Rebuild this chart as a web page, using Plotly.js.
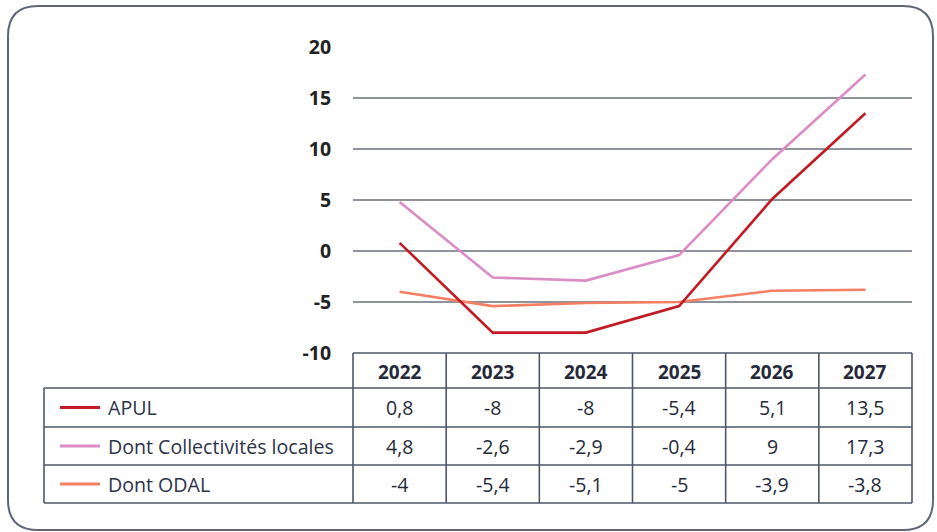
<!DOCTYPE html>
<html><head><meta charset="utf-8">
<script src="https://cdn.plot.ly/plotly-3.0.1.min.js"></script>
<style>html,body{margin:0;padding:0;background:#fff}#chart{width:937px;height:532px}</style>
</head><body><div id="chart"></div>
<script>
const years = ['2022','2023','2024','2025','2026','2027'];
const apul = [0.8, -8, -8, -5.4, 5.1, 13.5];
const collectivites = [4.8, -2.6, -2.9, -0.4, 9, 17.3];
const odal = [-4, -5.4, -5.1, -5, -3.9, -3.8];
const seriesNames = ['APUL', 'Dont Collectivités locales', 'Dont ODAL'];
const seriesValues = [apul, collectivites, odal];
const seriesColors = ['#c21a22', '#dc8cc4', '#f47f62'];
const yTicks = [-10, -5, 0, 5, 10, 15, 20];

const W = 937, H = 532, L = 353, R = 912, T = 47, B = 353;
const px = x => (x - L) / (R - L);
const py = y => (B - y) / (B - T);
const fmt = v => String(v).replace('.', ',');

const traces = [2, 1, 0].map(i => ({
  type: 'scatter', mode: 'lines', x: years, y: seriesValues[i], name: seriesNames[i],
  line: {color: seriesColors[i], width: 2.6}, hoverinfo: 'skip', showlegend: false
}));

const gridCol = '#4d5668';
const shapes = [];
const annotations = [];
// outer rounded frame
const x0 = px(8), x1 = px(933), y0 = py(6), y1 = py(530);
const rx = 30 / (R - L), ry = 30 / (B - T);
shapes.push({type: 'path', xref: 'paper', yref: 'paper', layer: 'below',
  path: `M ${x0 + rx} ${y0} L ${x1 - rx} ${y0} Q ${x1} ${y0} ${x1} ${y0 - ry} L ${x1} ${y1 + ry} Q ${x1} ${y1} ${x1 - rx} ${y1} L ${x0 + rx} ${y1} Q ${x0} ${y1} ${x0} ${y1 + ry} L ${x0} ${y0 - ry} Q ${x0} ${y0} ${x0 + rx} ${y0} Z`,
  line: {color: '#5f6676', width: 2}});

// table geometry (pixels)
const rowEdges = [353, 388, 427, 465, 503];
const labelLeft = 44;
const lw = 1.6;
shapes.push({type: 'line', xref: 'paper', yref: 'paper', x0: px(L), x1: px(R), y0: py(rowEdges[0]), y1: py(rowEdges[0]), line: {color: gridCol, width: lw}});
for (let r = 1; r < rowEdges.length; r++) {
  shapes.push({type: 'line', xref: 'paper', yref: 'paper', x0: px(labelLeft), x1: px(R), y0: py(rowEdges[r]), y1: py(rowEdges[r]), line: {color: gridCol, width: lw}});
}
for (let c = 0; c <= years.length; c++) {
  const xc = px(L + c * (R - L) / years.length);
  shapes.push({type: 'line', xref: 'paper', yref: 'paper', x0: xc, x1: xc, y0: py(rowEdges[0]), y1: py(rowEdges[4]), line: {color: gridCol, width: lw}});
}
shapes.push({type: 'line', xref: 'paper', yref: 'paper', x0: px(labelLeft), x1: px(labelLeft), y0: py(rowEdges[1]), y1: py(rowEdges[4]), line: {color: gridCol, width: lw}});

const txtCol = '#262a38';
// header
years.forEach((yr, j) => annotations.push({xref: 'x', yref: 'paper', x: j, y: py((rowEdges[0] + rowEdges[1]) / 2 + 1),
  xanchor: 'center', yanchor: 'middle',
  text: '<b>' + yr + '</b>', showarrow: false, font: {family: 'Open Sans', size: 19, color: txtCol}}));
// rows
seriesNames.forEach((name, i) => {
  const yc = py((rowEdges[i + 1] + rowEdges[i + 2]) / 2);
  shapes.push({type: 'line', xref: 'paper', yref: 'paper', x0: px(60), x1: px(100), y0: yc, y1: yc, line: {color: seriesColors[i], width: 3}});
  annotations.push({xref: 'paper', yref: 'paper', x: px(106), y: yc, xanchor: 'left', yanchor: 'middle', text: name, showarrow: false,
    font: {family: 'Open Sans', size: 19.6, color: '#2d3348'}});
  seriesValues[i].forEach((v, j) => annotations.push({xref: 'x', yref: 'paper', x: j, y: yc, xanchor: 'center', yanchor: 'middle',
    text: fmt(v), showarrow: false, font: {family: 'Open Sans', size: 19.5, color: txtCol}}));
});

const layout = {
  width: W, height: H, margin: {l: L, r: W - R, t: T, b: H - B, pad: 0},
  paper_bgcolor: '#fff', plot_bgcolor: '#fff', showlegend: false,
  xaxis: {type: 'category', range: [-0.5, 5.5], showticklabels: false, showgrid: false, zeroline: false, showline: false, ticks: ''},
  yaxis: {range: [-10, 20], tickvals: yTicks, ticktext: yTicks.map(v => '<b>' + v + '</b>'), showgrid: true, gridcolor: '#8e939b', gridwidth: 1.2,
    zeroline: false, showline: false, ticks: 'outside', ticklen: 17, tickcolor: 'rgba(0,0,0,0)',
    tickfont: {family: 'Open Sans', size: 19.5, color: '#222'}},
  shapes, annotations
};
Plotly.newPlot('chart', traces, layout, {staticPlot: true});
</script></body></html>
